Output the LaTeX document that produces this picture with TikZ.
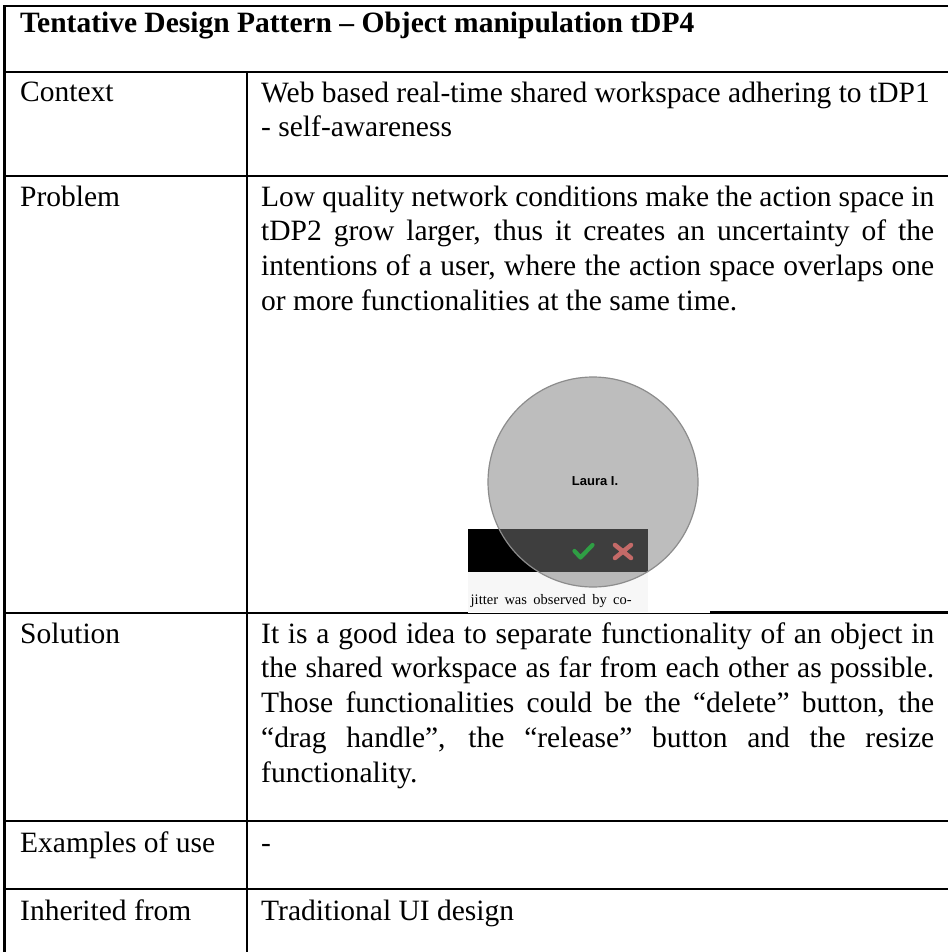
\documentclass[tikz,border=0pt]{standalone}
\usepackage{fontspec}
\setmainfont{Liberation Serif}
\newfontfamily\uisans{Liberation Sans}
\definecolor{okgreen}{HTML}{2F9E44}
\definecolor{noRed}{HTML}{C46A68}
\definecolor{discgray}{HTML}{7D7D7D}
\definecolor{footgray}{HTML}{F7F7F7}
\newcommand\bodysize{\fontsize{29.5}{34.7}\selectfont}
\newcommand\fullline[1]{\makebox[673pt][s]{#1}}
\begin{document}
\begin{tikzpicture}[x=1pt,y=-1pt,
  rule/.style={line width=2.2pt},
  thinrule/.style={line width=1pt},
  oneline/.style={anchor=base west, inner sep=0pt, font=\bodysize},
  block/.style={anchor=north west, inner sep=0pt, font=\bodysize},
]
\useasboundingbox[fill=white] (0,0) rectangle (948,952);

% ---- embedded screenshot in the Problem cell ----
\fill[footgray] (468,572) rectangle (648,612);
\fill[black] (468,529) rectangle (648,572);
\node (disc) [circle, minimum size=210pt, inner sep=0pt, fill=discgray, fill opacity=0.5,
  draw=black!45, line width=1.2pt] at (593,482) {};
\node (name) [font=\uisans\bfseries\fontsize{13}{15}\selectfont, inner sep=0pt] at (595,481.5) {Laura I.};
\draw[okgreen, line width=4.2pt, line cap=round, line join=round] (574.5,551) -- (580.5,557.5) -- (592.5,545);
\draw[noRed, line width=4.5pt, line cap=round] (615,545) -- (631,558) (631,545) -- (615,558);
\node (jitter) [anchor=base west, inner sep=0pt, font=\fontsize{14.5}{16}\selectfont] at (470.5,604)
  {\makebox[161pt][s]{jitter was observed by co-}};

% ---- table rules ----
\draw[rule] (948,6) -- (4.5,6) -- (4.5,952);
\draw[rule] (4.5,72) -- (948,72);
\draw[rule] (4.5,176) -- (948,176);
\draw[rule] (4.5,613) -- (468,613);
\draw[thinrule] (468,613.3) -- (710,613.3);
\draw[rule] (710,612.5) -- (948,612.5);
\draw[rule] (4.5,821) -- (948,821);
\draw[rule] (4.5,889) -- (948,889);
\draw[rule] (247,72) -- (247,952);

% ---- texts ----
\node (title) [oneline, font=\bodysize\bfseries] at (20,33)
  {Tentative Design Pattern – Object manipulation tDP4};

\node (ctxL) [oneline] at (20,102) {Context};
\node (ctxR) [block] at (261,102-24.29)
  {\parbox[t]{673pt}{\bodysize\strut\mbox{Web based real-time shared workspace adhering to tDP1}\\
   - self-awareness}};

\node (probL) [oneline] at (20,206) {Problem};
\node (probR) [block] at (261,206-24.29)
  {\parbox[t]{673pt}{\bodysize\strut\fullline{Low quality network conditions make the action space in}\\
   \fullline{tDP2 grow larger, thus it creates an uncertainty of the}\\
   \fullline{intentions of a user, where the action space overlaps one}\\
   or more functionalities at the same time.}};

\node (solL) [oneline] at (20,643) {Solution};
\node (solR) [block] at (261,643-24.29)
  {\parbox[t]{673pt}{\bodysize\strut\fullline{It is a good idea to separate functionality of an object in}\\
   \fullline{the shared workspace as far from each other as possible.}\\
   \fullline{Those functionalities could be the “delete” button, the}\\
   \fullline{“drag handle”, the “release” button and the resize}\\
   functionality.}};

\node (exL) [oneline] at (20,852) {Examples of use};
\node (exR) [oneline] at (261,852) {-};

\node (inhL) [oneline] at (20,920) {Inherited from};
\node (inhR) [oneline] at (261,920) {Traditional UI design};
\end{tikzpicture}
\end{document}
